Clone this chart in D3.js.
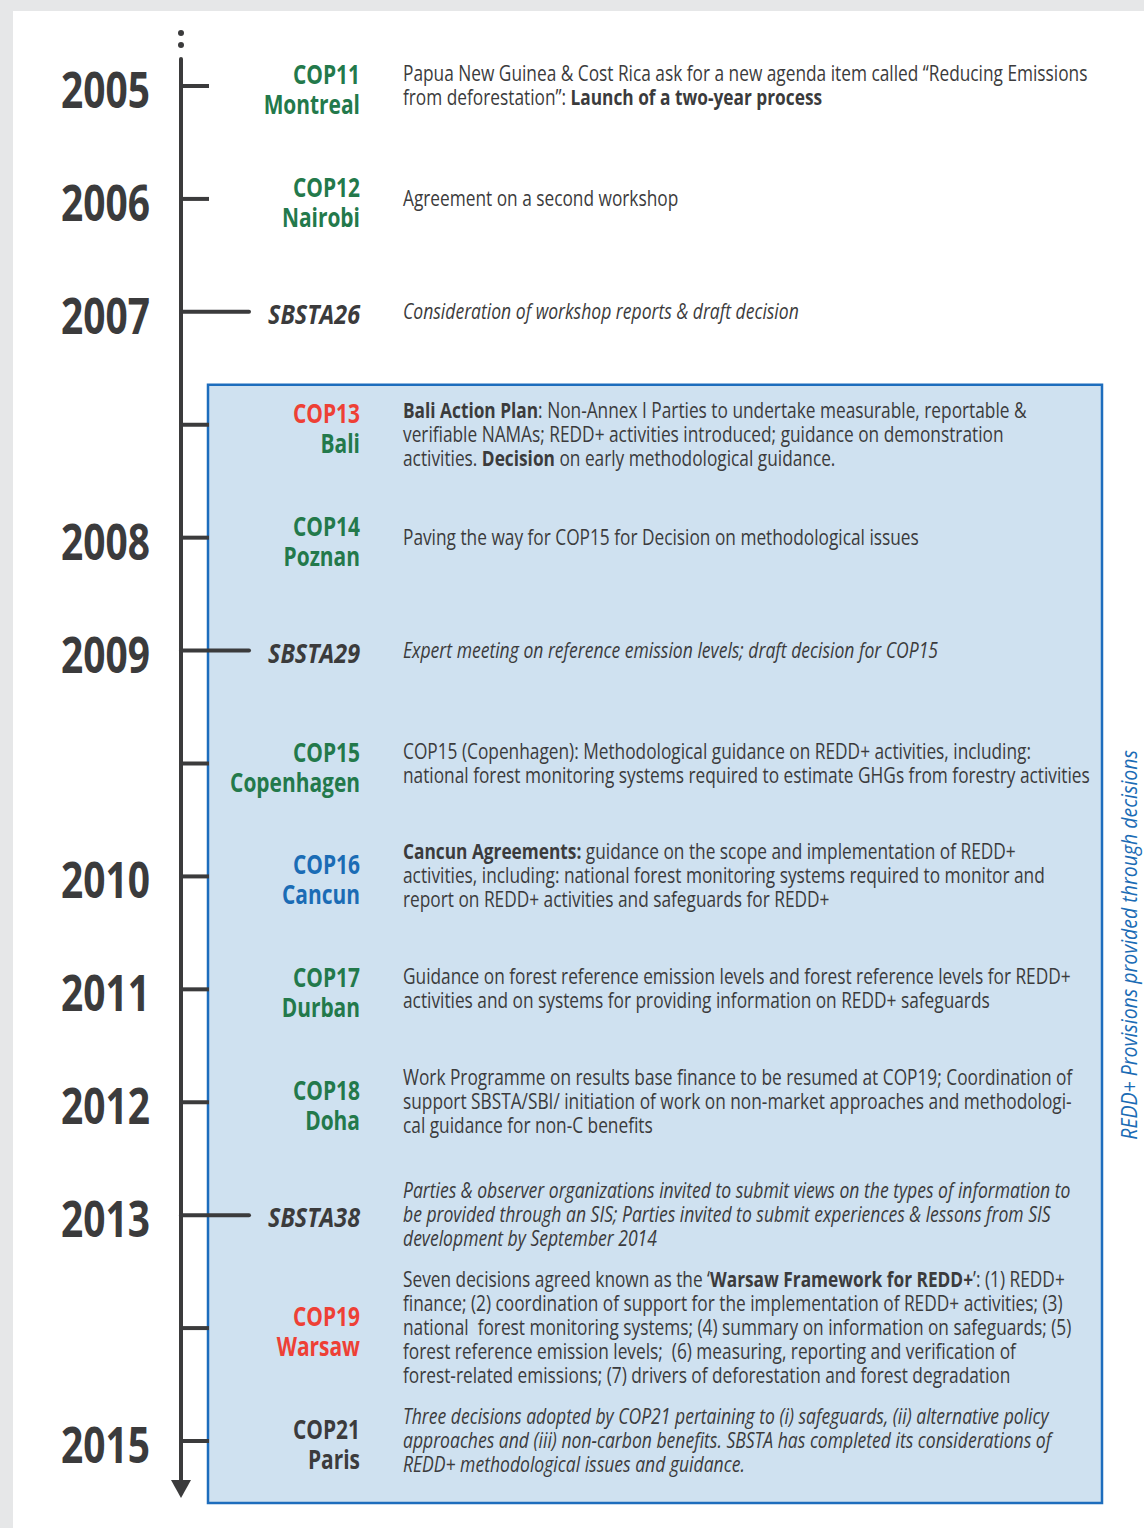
<!DOCTYPE html>
<html><head><meta charset="utf-8">
<script src="https://cdn.jsdelivr.net/npm/d3@7"></script>
<style>
html,body{margin:0;padding:0;background:#e6e7e8;}
svg{display:block;}
</style></head>
<body>
<svg id="chart" width="1144" height="1528"></svg>
<script>
// ---------- DATA ----------
const eventIds = ["COP11","COP12","SBSTA26","COP13","COP14","SBSTA29","COP15","COP16","COP17","COP18","SBSTA38","COP19","COP21"];
const years = ["2005","2006","2007","","2008","2009","","2010","2011","2012","2013","","2015"];
const eventKinds = ["COP","COP","SBSTA","COP","COP","SBSTA","COP","COP","COP","COP","SBSTA","COP","COP"];
const labelLine1 = ["COP11","COP12","SBSTA26","COP13","COP14","SBSTA29","COP15","COP16","COP17","COP18","SBSTA38","COP19","COP21"];
const labelLine2 = ["Montreal","Nairobi","","Bali","Poznan","","Copenhagen","Cancun","Durban","Doha","","Warsaw","Paris"];
const labelColor1 = ["green","green","dark","red","green","dark","green","blue","green","green","dark","red","dark"];
const labelColor2 = ["green","green","dark","green","green","dark","green","blue","green","green","dark","red","dark"];
const descItalic = [false,false,true,false,false,true,false,false,false,false,true,false,true];
const descriptions = [
  ["Papua New Guinea & Cost Rica ask for a new agenda item called \u201cReducing Emissions",
   "from deforestation\u201d: **Launch of a two-year process**"],
  ["Agreement on a second workshop"],
  ["Consideration of workshop reports & draft decision"],
  ["**Bali Action Plan**: Non-Annex I Parties to undertake measurable, reportable &",
   "verifiable NAMAs; REDD+ activities introduced; guidance on demonstration",
   "activities. **Decision** on early methodological guidance."],
  ["Paving the way for COP15 for Decision on methodological issues"],
  ["Expert meeting on reference emission levels; draft decision for COP15"],
  ["COP15 (Copenhagen): Methodological guidance on REDD+ activities, including:",
   "national forest monitoring systems required to estimate GHGs from forestry activities"],
  ["**Cancun Agreements:** guidance on the scope and implementation of REDD+",
   "activities, including: national forest monitoring systems required to monitor and",
   "report on REDD+ activities and safeguards for REDD+"],
  ["Guidance on forest reference emission levels and forest reference levels for REDD+",
   "activities and on systems for providing information on REDD+ safeguards"],
  ["Work Programme on results base finance to be resumed at COP19; Coordination of",
   "support SBSTA/SBI/ initiation of work on non-market approaches and methodologi-",
   "cal guidance for non-C benefits"],
  ["Parties & observer organizations invited to submit views on the types of information to",
   "be provided through an SIS; Parties invited to submit experiences & lessons from SIS",
   "development by September 2014"],
  ["Seven decisions agreed known as the \u2018**Warsaw Framework for REDD+**\u2019: (1) REDD+",
   "finance; (2) coordination of support for the implementation of REDD+ activities; (3)",
   "national\u00a0 forest monitoring systems; (4) summary on information on safeguards; (5)",
   "forest reference emission levels;\u00a0 (6) measuring, reporting and verification of",
   "forest-related emissions; (7) drivers of deforestation and forest degradation"],
  ["Three decisions adopted by COP21 pertaining to (i) safeguards, (ii) alternative policy",
   "approaches and (iii) non-carbon benefits. SBSTA has completed its considerations of",
   "REDD+ methodological issues and guidance."]
];
const sideNote = "REDD+ Provisions provided through decisions";

// ---------- STYLE ----------
const C = {dark:"#3b3b3c", green:"#23794b", red:"#ee4035", blue:"#1b6cb5",
           boxFill:"#cfe1f0", boxStroke:"#1d6dbd", pageBg:"#e6e7e8"};
const FONT = "'Open Sans','Noto Sans','DejaVu Sans',sans-serif";
const W = 1144, H = 1528;
const axisX = 181;
const descNudge = {COP13: 10}; // text block aligned to top of label in the original
const svg = d3.select("#chart");

// measure helper to emulate condensed font
function measure(txt, size, weight, style){
  const t = svg.append("text").attr("font-family",FONT).attr("font-size",size)
    .attr("font-weight",weight).attr("font-style",style).text(txt);
  const w = t.node().getComputedTextLength(); t.remove(); return w;
}
const sxDesc = 685 / measure(descriptions[0][0], 21, 400, "normal");
const sxDescIt = 396 / measure(descriptions[2][0], 21, 400, "italic");
const sxLabel = 130 / measure("Copenhagen", 27, 700, "normal");
const sxLabelIt = 92 / measure("SBSTA26", 27, 700, "italic");
const sxYear = 89 / measure("2005", 50, 700, "normal");
const sxSide = 390 / measure(sideNote, 22, 400, "italic");

// background
svg.append("rect").attr("width",W).attr("height",H).attr("fill",C.pageBg);
svg.append("rect").attr("x",13).attr("y",11).attr("width",W-13).attr("height",H-11).attr("fill","#fff");

const y = d3.scalePoint().domain(eventIds).range([86,1441]);
const rows = eventIds.map((id,i)=>({id, i, year:years[i], kind:eventKinds[i],
  l1:labelLine1[i], l2:labelLine2[i], c1:labelColor1[i], c2:labelColor2[i],
  italic:descItalic[i], lines:descriptions[i]}));

// blue box
const boxTop = y("COP13") - 40, boxBottom = y("COP21") + 62;
svg.append("rect").attr("x",208).attr("y",boxTop).attr("width",1102-208).attr("height",boxBottom-boxTop)
  .attr("fill",C.boxFill).attr("stroke",C.boxStroke).attr("stroke-width",2.5);

// side note
svg.append("text").attr("transform",`translate(1137,${(y("COP15")+y("COP18"))/2+12}) rotate(-90) scale(${sxSide},1)`)
  .attr("text-anchor","middle").attr("font-family",FONT).attr("font-size",22).attr("font-style","italic")
  .attr("fill",C.blue).text(sideNote);

// axis
const axisG = svg.append("g");
axisG.selectAll("circle.dot").data([33,45]).join("circle").attr("cx",axisX).attr("cy",d=>d).attr("r",3).attr("fill",C.dark);
axisG.append("line").attr("x1",axisX).attr("x2",axisX).attr("y1",59).attr("y2",1482)
  .attr("stroke",C.dark).attr("stroke-width",4).attr("stroke-linecap","round");
axisG.append("path").attr("d",`M${axisX-10},${1480}L${axisX+10},${1480}L${axisX},${1498}Z`).attr("fill",C.dark);

// ticks
axisG.selectAll("line.tick").data(rows).join("line").attr("class","tick")
  .attr("x1",axisX).attr("x2",d=>d.kind==="SBSTA"?249:209)
  .attr("y1",d=>y(d.id)).attr("y2",d=>y(d.id))
  .attr("stroke",C.dark).attr("stroke-width",4).attr("stroke-linecap",d=>d.kind==="SBSTA"?"round":"butt");

// years
svg.selectAll("text.year").data(rows.filter(d=>d.year)).join("text").attr("class","year")
  .attr("transform",d=>`translate(150,${y(d.id)+22}) scale(${sxYear},1)`)
  .attr("text-anchor","end").attr("font-family",FONT).attr("font-size",50).attr("font-weight",700)
  .attr("fill",C.dark).text(d=>d.year);

// labels
rows.forEach(d=>{
  const yy = y(d.id);
  if(d.kind==="SBSTA"){
    svg.append("text").attr("transform",`translate(360,${yy+12}) scale(${sxLabelIt},1)`)
      .attr("text-anchor","end").attr("font-family",FONT).attr("font-size",27).attr("font-weight",700)
      .attr("font-style","italic").attr("fill",C[d.c1]).text(d.l1);
  } else {
    svg.append("text").attr("transform",`translate(360,${yy-2}) scale(${sxLabel},1)`)
      .attr("text-anchor","end").attr("font-family",FONT).attr("font-size",27).attr("font-weight",700)
      .attr("fill",C[d.c1]).text(d.l1);
    svg.append("text").attr("transform",`translate(360,${yy+28}) scale(${sxLabel},1)`)
      .attr("text-anchor","end").attr("font-family",FONT).attr("font-size",27).attr("font-weight",700)
      .attr("fill",C[d.c2]).text(d.l2);
  }
});

// descriptions
rows.forEach(d=>{
  const n = d.lines.length;
  const base = y(d.id) - (n-1)*12 + 7 + (descNudge[d.id]||0);
  const sx = d.italic ? sxDescIt : sxDesc;
  d.lines.forEach((line,k)=>{
    const t = svg.append("text").attr("transform",`translate(403,${base+k*24}) scale(${sx},1)`)
      .attr("font-family",FONT).attr("font-size",21).attr("fill",C.dark)
      .attr("font-style",d.italic?"italic":"normal").attr("xml:space","preserve").style("white-space","pre");
    line.split("**").forEach((seg,j)=>{
      if(seg) t.append("tspan").attr("font-weight",j%2?700:400).text(seg);
    });
  });
});
</script>
</body></html>
